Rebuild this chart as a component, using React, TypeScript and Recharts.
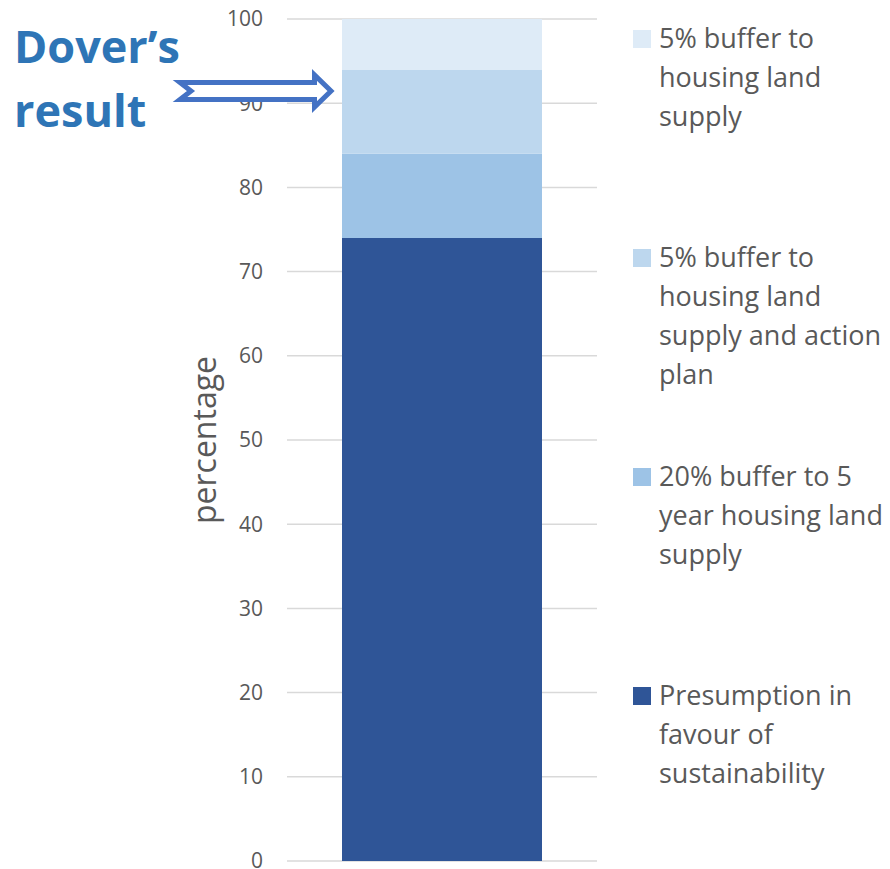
import { BarChart, Bar, XAxis, YAxis, CartesianGrid } from "recharts";

const categories = ["Dover"];
const presumption = [74];
const buffer20 = [10];
const buffer5Action = [10];
const buffer5 = [6];
const yTicks = [0, 10, 20, 30, 40, 50, 60, 70, 80, 90, 100];

// series, bottom of the stack first
const series = [
  { key: "presumption", name: "Presumption in\nfavour of\nsustainability", color: "#2F5597" },
  { key: "buffer20", name: "20% buffer to 5\nyear housing land\nsupply", color: "#9DC3E6" },
  { key: "buffer5Action", name: "5% buffer to\nhousing land\nsupply and action\nplan", color: "#BDD7EE" },
  { key: "buffer5", name: "5% buffer to\nhousing land\nsupply", color: "#DEEBF7" },
];

const data = categories.map((name, i) => ({
  name,
  presumption: presumption[i],
  buffer20: buffer20[i],
  buffer5Action: buffer5Action[i],
  buffer5: buffer5[i],
}));

const FONT = "'Open Sans', 'Noto Sans', sans-serif";
const GREY = "#595959";

function ChartLegend() {
  const items = [...series].reverse();
  return (
    <div style={{ position: "absolute", left: 633, top: 18, fontFamily: FONT }}>
      {items.map((s) => (
        <div key={s.key} style={{ height: 219, display: "flex", alignItems: "flex-start" }}>
          <div
            style={{
              width: 18,
              height: 18,
              marginTop: 12,
              marginRight: 8,
              background: s.color,
              flex: "none",
            }}
          />
          <div style={{ fontSize: 27, lineHeight: "39px", color: GREY, whiteSpace: "pre-line" }}>
            {s.name}
          </div>
        </div>
      ))}
    </div>
  );
}

export default function App() {
  return (
    <div
      style={{
        position: "absolute",
        left: 0,
        top: 0,
        width: 890,
        height: 869,
        background: "#fff",
      }}
    >
      <BarChart
        width={890}
        height={869}
        data={data}
        margin={{ top: 19, right: 293, bottom: 8, left: 0 }}
      >
        <CartesianGrid vertical={false} stroke="#D9D9D9" strokeWidth={1.5} />
        <XAxis dataKey="name" hide />
        <YAxis
          width={287}
          domain={[0, 100]}
          ticks={yTicks}
          interval={0}
          axisLine={false}
          tickLine={false}
          tickSize={0}
          tickMargin={24}
          tick={{ fill: GREY, fontSize: 21, fontFamily: FONT }}
        />
        {series.map((s) => (
          <Bar
            key={s.key}
            dataKey={s.key}
            name={s.name}
            stackId="a"
            fill={s.color}
            barSize={200}
            isAnimationActive={false}
          />
        ))}
      </BarChart>

      <svg
        style={{ position: "absolute", left: 0, top: 0, pointerEvents: "none" }}
        width={890}
        height={869}
      >
        <text
          x={203}
          y={440}
          transform="rotate(-90 203 440)"
          textAnchor="middle"
          dominantBaseline="central"
          fill={GREY}
          fontSize={32}
          fontFamily={FONT}
        >
          percentage
        </text>
        <text x={14} y={63} fill="#2E75B6" fontSize={45} fontWeight={700} fontFamily={FONT}>
          Dover’s
        </text>
        <text x={14} y={127} fill="#2E75B6" fontSize={45} fontWeight={700} fontFamily={FONT}>
          result
        </text>
        <polygon
          points="180,82.5 314.5,82.5 314.5,75 331,91 314.5,107 314.5,99.5 180,99.5 191,91"
          fill="#fff"
          stroke="#4472C4"
          strokeWidth={5}
          strokeLinejoin="miter"
        />
      </svg>

      <ChartLegend />
    </div>
  );
}
